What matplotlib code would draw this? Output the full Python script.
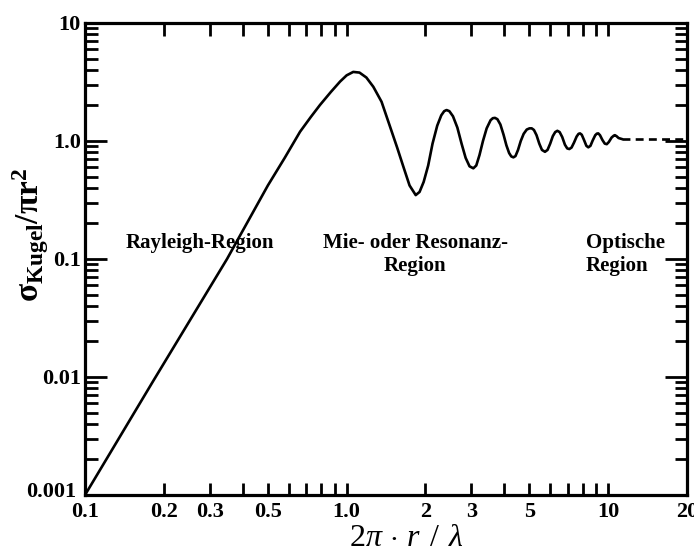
import matplotlib
matplotlib.use("Agg")
import matplotlib.pyplot as plt
import matplotlib.transforms as mtransforms
from matplotlib.ticker import FixedLocator, NullFormatter

plt.rcParams['font.family'] = ['Liberation Serif', 'DejaVu Serif']
plt.rcParams['mathtext.fontset'] = 'custom'
plt.rcParams['mathtext.rm'] = 'Liberation Serif'
plt.rcParams['mathtext.it'] = 'Liberation Serif:italic'
plt.rcParams['mathtext.bf'] = 'Liberation Serif:bold'

# values (x = 2*pi*r/lambda, y = sigma/(pi r^2))
ka = [0.1, 0.182, 0.349, 0.5, 0.58, 0.664, 0.73, 0.791, 0.87, 0.944, 1.0,
      1.06, 1.12, 1.19, 1.265, 1.36, 1.466, 1.56, 1.648, 1.74, 1.837,
      1.90, 1.97, 2.05, 2.13, 2.22, 2.30, 2.36, 2.41, 2.47, 2.55, 2.65, 2.75,
      2.85, 2.95, 3.05, 3.13, 3.22, 3.32, 3.43, 3.55, 3.62, 3.69, 3.77, 3.87,
      3.98, 4.08, 4.18, 4.26, 4.34, 4.42, 4.52, 4.63, 4.75, 4.88, 5.0, 5.10,
      5.2, 5.32, 5.45, 5.58, 5.73, 5.86, 6.0, 6.14, 6.27, 6.39, 6.52, 6.67,
      6.83, 6.97, 7.10, 7.24, 7.40, 7.57, 7.70, 7.80, 7.92, 8.08, 8.25, 8.39,
      8.55, 8.72, 8.92, 9.05, 9.16, 9.30, 9.50, 9.70, 9.87, 10.05, 10.3,
      10.5, 10.6, 10.75, 10.95, 11.26]
rcs = [0.001, 0.0092, 0.1, 0.42, 0.72, 1.2, 1.6, 2.02, 2.6, 3.19, 3.6,
       3.85, 3.8, 3.45, 2.88, 2.15, 1.32, 0.88, 0.605, 0.42, 0.348,
       0.37, 0.45, 0.62, 0.95, 1.35, 1.65, 1.79, 1.83, 1.79, 1.62, 1.30, 0.95,
       0.72, 0.61, 0.587, 0.62, 0.76, 1.0, 1.28, 1.50, 1.56, 1.57, 1.53, 1.38,
       1.13, 0.92, 0.79, 0.74, 0.727, 0.745, 0.84, 1.0, 1.15, 1.25, 1.28, 1.28,
       1.24, 1.12, 0.95, 0.84, 0.81, 0.84, 0.95, 1.10, 1.19, 1.22, 1.19, 1.08,
       0.93, 0.865, 0.855, 0.88, 0.97, 1.09, 1.15, 1.16, 1.13, 1.02, 0.91, 0.884,
       0.91, 1.01, 1.12, 1.155, 1.16, 1.12, 1.02, 0.95, 0.94, 0.98, 1.07,
       1.11, 1.12, 1.10, 1.06, 1.04]

# asymptotic optical region (dashed)
opt_x = [11.26, 20.0]
opt_y = [1.04, 1.04]

x_major = [0.1, 0.2, 0.3, 0.5, 1.0, 2, 3, 5, 10, 20]
x_labels = ['0.1', '0.2', '0.3', '0.5', '1.0', '2', '3', '5', '10', '20']
x_minor = [0.4, 0.6, 0.7, 0.8, 0.9, 4, 6, 7, 8, 9]
y_major = [0.001, 0.01, 0.1, 1.0, 10]
y_labels = ['0.001', '0.01', '0.1', '1.0', '10']

fig = plt.figure(figsize=(6.94, 5.57), dpi=100)
ax = fig.add_axes([85 / 694, 1 - 495 / 557, 602 / 694, 472 / 557])

ax.plot(ka, rcs, color='black', lw=1.9, solid_joinstyle='round')
ax.plot(opt_x, opt_y, color='black', lw=1.9, dashes=(3, 2))

ax.set_xscale('log')
ax.set_yscale('log')
ax.set_xlim(0.1, 20)
ax.set_ylim(0.001, 10)

ax.xaxis.set_major_locator(FixedLocator(x_major))
ax.set_xticklabels(x_labels)
ax.xaxis.set_minor_locator(FixedLocator(x_minor))
ax.xaxis.set_minor_formatter(NullFormatter())
ax.yaxis.set_major_locator(FixedLocator(y_major))
ax.set_yticklabels(y_labels)

for s in ax.spines.values():
    s.set_linewidth(2.3)
ax.tick_params(axis='both', which='both', direction='in', top=True, right=True,
               width=2.0, labelsize=16)
ax.tick_params(axis='x', which='both', length=9, pad=5)
ax.tick_params(axis='y', which='major', length=16, pad=3)
ax.tick_params(axis='y', which='minor', length=9)
for lab in ax.get_xticklabels() + ax.get_yticklabels():
    lab.set_fontweight('bold')

# lift the lowest y label a little so it clears the "0.1" x label
low = ax.get_yticklabels()[0]
low.set_transform(low.get_transform() +
                  mtransforms.ScaledTranslation(-3 / 72, 4 / 72, fig.dpi_scale_trans))

fig.text(406 / 694, 1 - 546 / 557, r'$2\pi\,\cdot\,r\;\,/\;\,\lambda$',
         ha='center', va='baseline', fontsize=23)
fig.text(31 / 694, 1 - 235 / 557, r'$\mathbf{\sigma_{Kugel}/\pi r^2}$',
         rotation=90, ha='center', va='center', fontsize=24)

ax.text(0.275, 0.165, 'Rayleigh-Region', fontsize=15, fontweight='bold',
        ha='center', va='top')
ax.text(1.83, 0.165, 'Mie- oder Resonanz-\nRegion', fontsize=15,
        fontweight='bold', ha='center', va='top', linespacing=1.2,
        multialignment='center')
ax.text(8.2, 0.165, 'Optische\nRegion', fontsize=15, fontweight='bold',
        ha='left', va='top', linespacing=1.2)

fig.savefig('out.png', dpi=100)
